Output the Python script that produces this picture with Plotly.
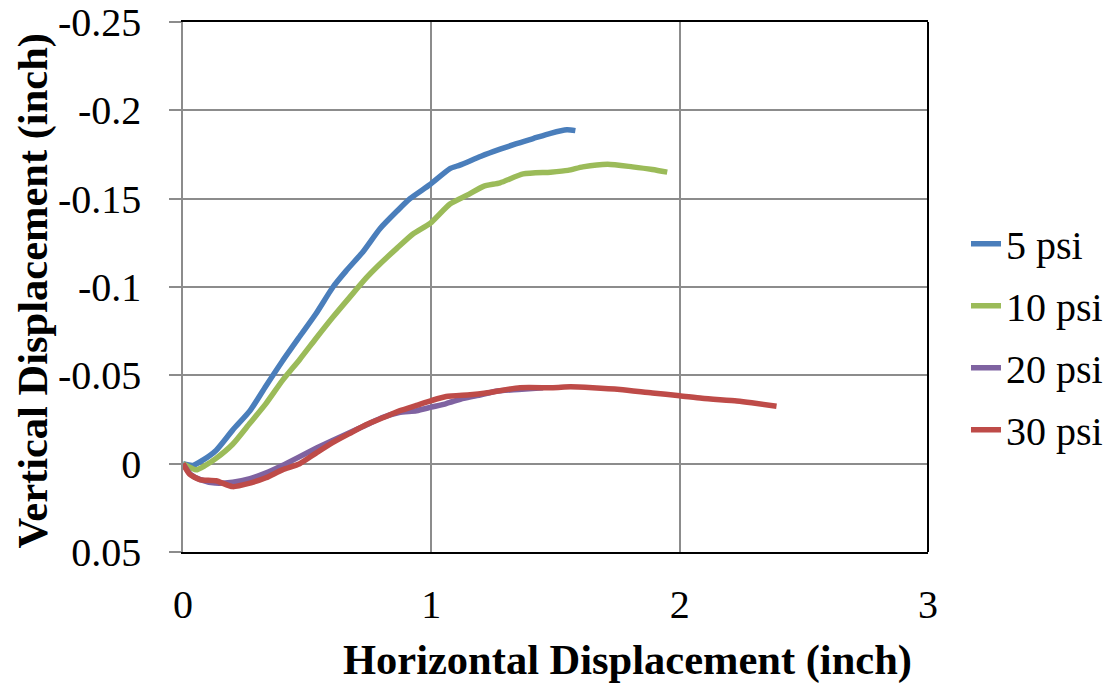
import plotly.graph_objects as go

# horizontal / vertical displacement (inch)
x_5psi = [0, 0.04, 0.08, 0.133, 0.2, 0.27, 0.334, 0.40, 0.47, 0.536, 0.604, 0.656, 0.725, 0.793,
          0.862, 0.914, 0.995, 1.075, 1.115, 1.2, 1.277, 1.34, 1.41, 1.48, 1.546, 1.58]
y_5psi = [0, 0.001, -0.002, -0.0075, -0.019, -0.030, -0.044, -0.058, -0.072, -0.085, -0.100, -0.109, -0.120, -0.133,
          -0.143, -0.150, -0.158, -0.167, -0.169, -0.174, -0.178, -0.181, -0.184, -0.187, -0.189, -0.1885]

x_10psi = [0, 0.053, 0.09, 0.133, 0.2, 0.27, 0.334, 0.40, 0.47, 0.536, 0.604, 0.67, 0.737, 0.793, 0.862,
           0.926, 0.995, 1.075, 1.144, 1.21, 1.277, 1.37, 1.48, 1.55, 1.61, 1.71, 1.81, 1.89, 1.95]
y_10psi = [0, 0.0035, 0.001, -0.003, -0.011, -0.023, -0.034, -0.047, -0.059, -0.071, -0.083, -0.094, -0.105, -0.113, -0.122,
           -0.130, -0.136, -0.147, -0.152, -0.157, -0.159, -0.164, -0.165, -0.166, -0.168, -0.1695, -0.168, -0.1665, -0.165]

x_20psi = [0, 0.03, 0.07, 0.13, 0.2, 0.27, 0.33, 0.40, 0.47, 0.54, 0.60, 0.67, 0.74, 0.80, 0.87,
           0.94, 1.0, 1.06, 1.13, 1.2, 1.26, 1.35, 1.45]
y_20psi = [0, 0.006, 0.009, 0.011, 0.0105, 0.0085, 0.0055, 0.001, -0.004, -0.009, -0.013, -0.0175, -0.022, -0.026, -0.029,
           -0.030, -0.032, -0.034, -0.037, -0.039, -0.041, -0.042, -0.043]

x_30psi = [0, 0.027, 0.067, 0.133, 0.2, 0.27, 0.334, 0.40, 0.47, 0.536, 0.604, 0.67, 0.737, 0.805, 0.874,
           0.94, 1.0, 1.06, 1.156, 1.22, 1.357, 1.49, 1.56, 1.65, 1.76, 1.89, 2.0, 2.09, 2.23, 2.29, 2.39]
y_30psi = [0, 0.006, 0.009, 0.0097, 0.013, 0.011, 0.008, 0.0035, 0.0, -0.006, -0.012, -0.017, -0.022, -0.026, -0.030,
           -0.033, -0.0357, -0.038, -0.039, -0.040, -0.043, -0.043, -0.0435, -0.043, -0.042, -0.040, -0.0385, -0.037, -0.0355, -0.0345, -0.0325]

x_ticks = [0, 1, 2, 3]
y_ticks = [-0.25, -0.2, -0.15, -0.1, -0.05, 0, 0.05]
y_ticktext = ['-0.25', '-0.2', '-0.15', '-0.1', '-0.05', '0', '0.05']

series = [
    ('5 psi', x_5psi, y_5psi, '#4A7EBB'),
    ('10 psi', x_10psi, y_10psi, '#9BBB59'),
    ('20 psi', x_20psi, y_20psi, '#7F63A1'),
    ('30 psi', x_30psi, y_30psi, '#BE4B48'),
]

FONT = 'Liberation Serif'

fig = go.Figure()
for i, (name, xs, ys, color) in enumerate(series):
    fig.add_trace(go.Scatter(
        x=xs, y=ys, mode='lines', name=name,
        legendgroup=str(i),
        line=dict(color=color, width=5.5, shape='spline', smoothing=0.6)
    ))

# page body adds an 8px offset, margins compensate for it
fig.update_layout(
    width=1118, height=683,
    margin=dict(l=175, r=198, t=14, b=139, autoexpand=False),
    plot_bgcolor='white', paper_bgcolor='white',
    font=dict(family=FONT, size=40, color='black'),
    showlegend=True,
    legend=dict(x=1.051, y=0.643, xanchor='left', yanchor='top',
                font=dict(family=FONT, size=40), tracegroupgap=7,
                bgcolor='rgba(0,0,0,0)'),
)

fig.update_xaxes(
    range=[0, 3], tickvals=x_ticks, ticks='', ticklabelstandoff=16, automargin=False,
    showgrid=True, gridcolor='#8C8C8C', gridwidth=1.5, ticklabeloverflow='allow',
    zeroline=False, showline=True, linecolor='black', linewidth=2, mirror=True,
    tickfont=dict(family=FONT, size=40),
)
fig.update_yaxes(
    range=[0.05, -0.25], tickvals=y_ticks, ticktext=y_ticktext, automargin=False,
    ticks='outside', ticklen=12, tickcolor='#8C8C8C', tickwidth=1.5, ticklabelstandoff=20,
    ticklabeloverflow='allow',
    showgrid=True, gridcolor='#8C8C8C', gridwidth=1.5,
    zeroline=False, showline=True, linecolor='#8C8C8C', linewidth=1.5,
    tickfont=dict(family=FONT, size=40),
)

# right edge of the plot frame is black in the original
fig.add_shape(type='line', xref='paper', yref='paper', x0=1, x1=1, y0=0, y1=1,
              line=dict(color='black', width=2))

fig.add_annotation(text='<b>Horizontal Displacement (inch)</b>', xref='paper', yref='paper',
                   x=0.597, y=-0.204, xanchor='center', yanchor='middle',
                   showarrow=False, font=dict(family=FONT, size=42.5))
fig.add_annotation(text='<b>Vertical Displacement (inch)</b>', xref='paper', yref='paper',
                   x=-0.202, y=0.4925, xanchor='center', yanchor='middle', textangle=-90,
                   showarrow=False, font=dict(family=FONT, size=42.5))

fig.write_html("out.html")
